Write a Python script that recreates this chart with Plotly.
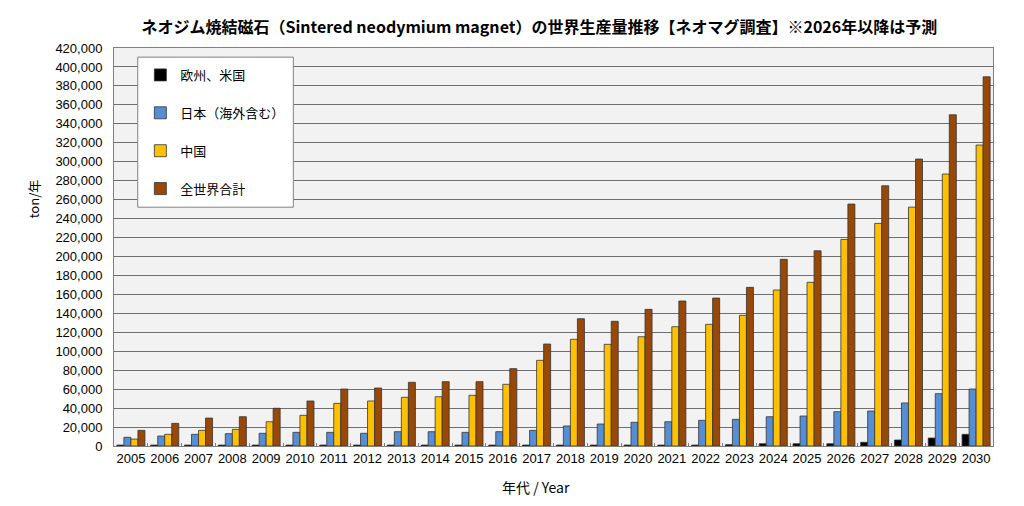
import plotly.graph_objects as go

# 年代
years = [str(y) for y in range(2005, 2031)]

# 生産量 (ton/年), グラフから読み取り
eu_us = [1000, 1000, 1000, 1000, 1000, 1000, 1000, 1000, 1000, 1000, 1000, 1000, 1000,
         1000, 1000, 1000, 1000, 1000, 1400, 2400, 2400, 2400, 3900, 6300, 8400, 12300]
japan = [9200, 10500, 12300, 13000, 13400, 14400, 14400, 13400, 15100, 15100, 14400, 15100, 16500,
         21100, 23200, 25000, 25600, 27100, 28100, 30900, 31600, 36200, 36900, 45400, 55200, 60100]
china = [7300, 12300, 16500, 17600, 25600, 32400, 45000, 47500, 51400, 52000, 53500, 65100, 90400,
         112600, 107300, 115300, 125900, 128400, 137900, 164600, 172700, 218000, 234900, 252100, 287000, 317600]
world = [16500, 23900, 29500, 30900, 39800, 47500, 60100, 61200, 67200, 67900, 67900, 81600, 107600,
         134300, 131600, 144200, 153000, 156100, 167400, 197000, 206000, 255300, 274600, 302800, 349500, 389600]

series_names = ["欧州、米国", "日本（海外含む）", "中国", "全世界合計"]
series_values = [eu_us, japan, china, world]
series_colors = ["#000000", "#558ed5", "#ffc000", "#984807"]

jp_font = "Noto Sans CJK JP"
num_font = "Liberation Sans"

fig = go.Figure()
for i, (name, vals, col) in enumerate(zip(series_names, series_values, series_colors)):
    fig.add_trace(go.Bar(
        x=years, y=vals, name=name,
        marker=dict(color=col, line=dict(color="#333333", width=0.8)),
        legendgroup=f"g{i}",
    ))

# 凡例の枠
fig.add_shape(type="rect", xref="paper", yref="paper",
              x0=0.027, x1=0.204, y0=0.600, y1=0.977,
              fillcolor="white", line=dict(color="#808080", width=1), layer="above")

# ページ本体の8pxの余白を考慮したサイズ
fig.update_layout(
    width=1016, height=498,
    paper_bgcolor="white",
    plot_bgcolor="#f2f2f2",
    margin=dict(l=106, r=31, t=40, b=60, autoexpand=False),
    barmode="group",
    bargap=0.17,
    bargroupgap=0,
    font=dict(family=jp_font, size=13, color="#000000"),
    title=dict(
        text="<b>ネオジム焼結磁石（Sintered neodymium magnet）の世界生産量推移【ネオマグ調査】※2026年以降は予測</b>",
        x=0.523, xanchor="center", y=0.962, yanchor="middle",
        font=dict(family=jp_font, size=16, color="#000000"),
    ),
    legend=dict(
        x=0.03, xanchor="left", y=0.97, yanchor="top",
        bgcolor="rgba(0,0,0,0)", borderwidth=0,
        font=dict(family=jp_font, size=13, color="#000000"),
        tracegroupgap=18,
        itemwidth=30,
    ),
    xaxis=dict(
        type="category",
        showline=True, linecolor="#808080", linewidth=1, mirror=True,
        ticks="inside", tickson="boundaries", ticklen=3, tickcolor="#808080",
        tickangle=0, automargin=False,
        tickfont=dict(family=num_font, size=13, color="#000000"),
        showgrid=False,
    ),
    yaxis=dict(
        range=[0, 420000], dtick=20000, tickformat=",",
        showline=True, linecolor="#808080", linewidth=1, mirror=True,
        gridcolor="#6f6f6f", gridwidth=1,
        ticks="", ticklabelstandoff=8, automargin=False,
        tickfont=dict(family=num_font, size=13, color="#000000"),
        zeroline=False,
    ),
    annotations=[
        dict(text="年代 / Year", xref="paper", yref="paper", x=0.48, y=-0.103,
             xanchor="center", yanchor="middle", showarrow=False,
             font=dict(family=jp_font, size=14, color="#000000")),
        dict(text="ton/年", xref="paper", yref="paper", x=-0.092, y=0.62,
             xanchor="center", yanchor="middle", showarrow=False, textangle=-90,
             font=dict(family=jp_font, size=13, color="#000000")),
    ],
)

fig.write_html("out.html")
